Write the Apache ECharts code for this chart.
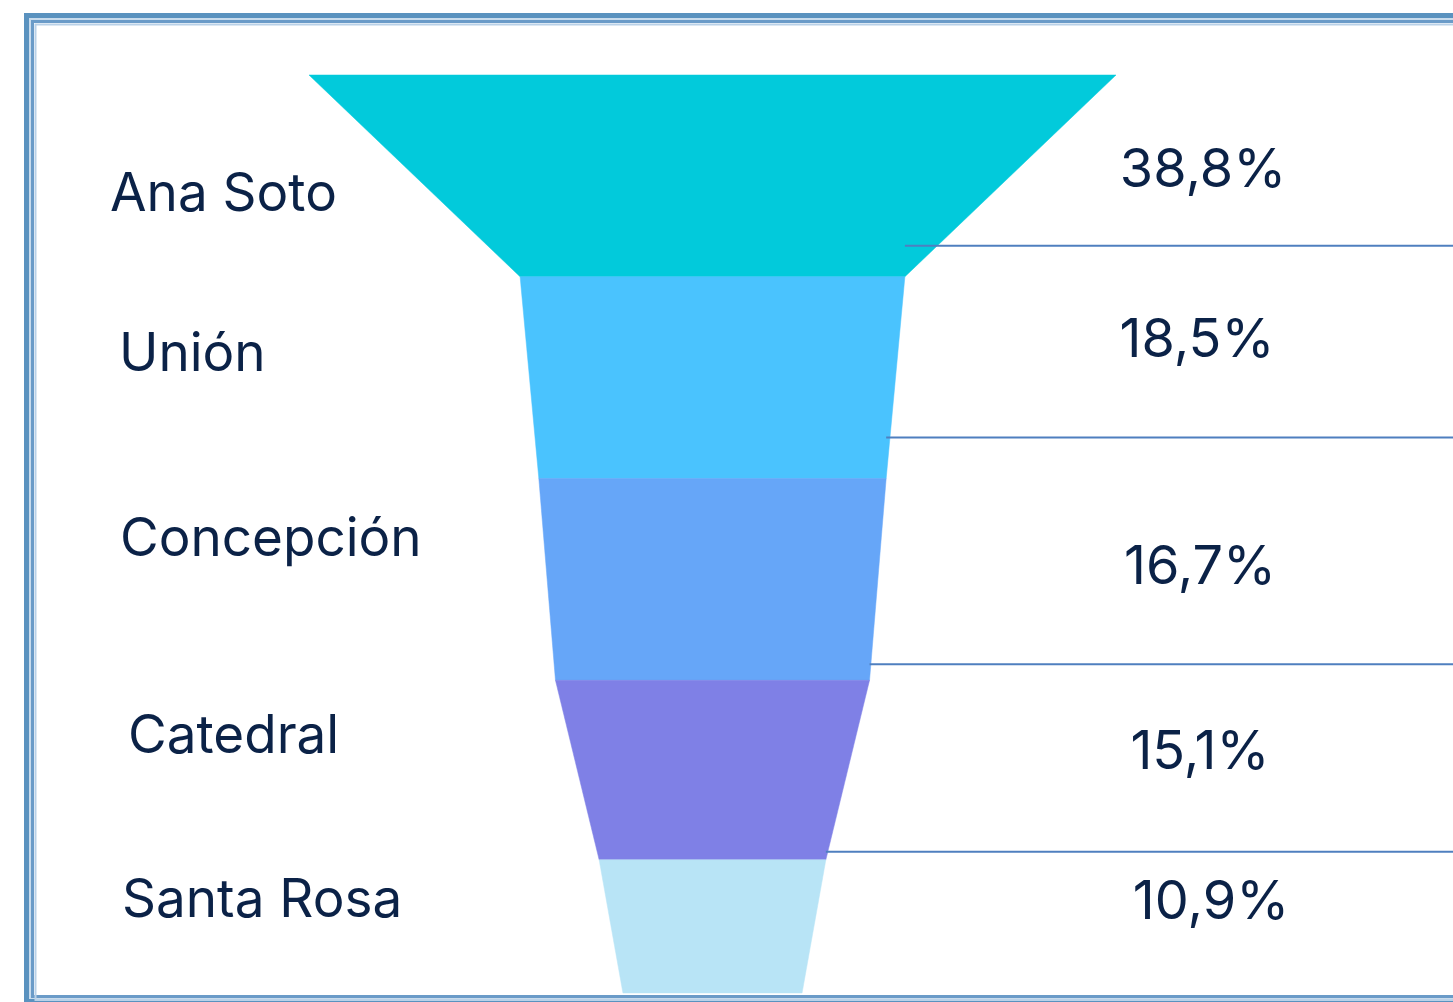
<!DOCTYPE html>
<html><head><meta charset="utf-8">
<script src="https://cdn.jsdelivr.net/npm/echarts@6/dist/echarts.min.js"></script>
<style>html,body{margin:0;padding:0;background:#fff}#c{width:1453px;height:1002px}</style>
</head><body><div id="c"></div>
<script>
// ---- data ----
const categories = ['Ana Soto', 'Unión', 'Concepción', 'Catedral', 'Santa Rosa'];
const values = [38.8, 18.5, 16.7, 15.1, 10.9];
const valueLabels = ['38,8%', '18,5%', '16,7%', '15,1%', '10,9%'];

// ---- layout (not data) ----
const ROW_HEIGHTS = [1, 1, 1, 0.89, 0.66];   // relative band heights
const NECK_RATIO = 0.79;                     // bottom width of last band relative to its value
const NAME_X = [110, 119, 120, 128, 122];
const NAME_DY = [19, -23, -39, -33, -25];
const PCT_X = [1203, 1197, 1200, 1200, 1211];
const PCT_DY = [-5, -37, -12, -17, -24];
const LEADER_DY = [-31, -41, -16, -8];
const COLORS = ['#02CADB', '#4AC3FE', '#66A6F8', '#7F80E6', '#B8E4F6'];
const TEXT = '#0B2247';

const edges = [0];
ROW_HEIGHTS.forEach(h => edges.push(edges[edges.length - 1] + h));
const total = edges[edges.length - 1];
const maxVal = Math.max(...values);

const data = values.map((v, i) => [
  v,
  i < values.length - 1 ? values[i + 1] : v * NECK_RATIO,
  edges[i],
  edges[i + 1],
  i
]);

const chart = echarts.init(document.getElementById('c'), null, {renderer: 'canvas'});
chart.setOption({
  backgroundColor: '#fff',
  animation: false,
  grid: {left: 309, right: 337, top: 75, bottom: 9},
  xAxis: {type: 'value', min: -maxVal / 2, max: maxVal / 2, show: false},
  yAxis: {type: 'value', inverse: true, min: 0, max: total, show: false},
  graphic: [
    {type: 'rect', z: 100, shape: {x: 26.5, y: 15.5, width: 1500, height: 986}, style: {fill: null, stroke: '#5A92BF', lineWidth: 5}},
    {type: 'rect', z: 100, shape: {x: 30, y: 19, width: 1500, height: 979}, style: {fill: null, stroke: '#C8DBEC', lineWidth: 2}},
    {type: 'rect', z: 100, shape: {x: 32.5, y: 21.5, width: 1500, height: 975}, style: {fill: null, stroke: '#6A9BC8', lineWidth: 3}},
    {type: 'rect', z: 100, shape: {x: 35.5, y: 24.5, width: 1500, height: 975.5}, style: {fill: null, stroke: '#B9D1E8', lineWidth: 2}}
  ],
  series: [{
    type: 'custom',
    clip: false,
    data: data,
    renderItem: function (params, api) {
      const topW = api.value(0), botW = api.value(1);
      const y0 = api.value(2), y1 = api.value(3);
      const i = api.value(4);
      const tl = api.coord([-topW / 2, y0]);
      const tr = api.coord([topW / 2, y0]);
      const br = api.coord([botW / 2, y1]);
      const bl = api.coord([-botW / 2, y1]);
      const cy = (tl[1] + bl[1]) / 2;
      const children = [{
        type: 'polygon',
        shape: {points: [tl, tr, br, bl]},
        style: {fill: COLORS[i], stroke: COLORS[i], lineWidth: 0.5}
      }, {
        type: 'text',
        style: {x: NAME_X[i], y: cy + NAME_DY[i], text: categories[i], fill: TEXT,
          font: '53px "Inter", "Noto Sans", sans-serif', textAlign: 'left', textVerticalAlign: 'middle'}
      }, {
        type: 'text',
        style: {x: PCT_X[i], y: cy + PCT_DY[i], text: valueLabels[i], fill: TEXT,
          font: '54px "Inter", "Liberation Sans", sans-serif', textAlign: 'center', textVerticalAlign: 'middle'}
      }];
      if (i < LEADER_DY.length) {
        const ly = br[1] + LEADER_DY[i];
        children.push({
          type: 'line', z2: 10,
          shape: {x1: br[0], y1: ly, x2: 1460, y2: ly},
          style: {stroke: '#4F7FBF', lineWidth: 2}
        });
      }
      return {type: 'group', children: children};
    }
  }]
});
</script></body></html>
